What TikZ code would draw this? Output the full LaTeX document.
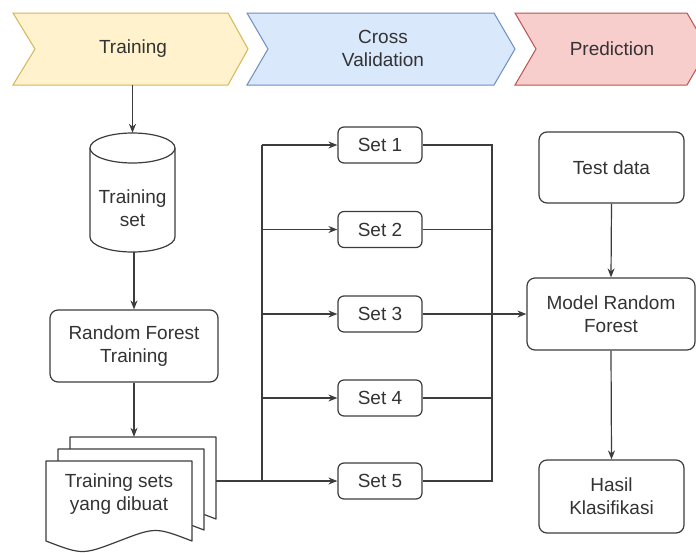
\documentclass[tikz,border=0pt]{standalone}
\usepackage{fontspec}
\setmainfont{Liberation Sans}
\usetikzlibrary{arrows.meta}
\definecolor{ink}{HTML}{333333}
\definecolor{edge}{HTML}{3C3C3C}
\definecolor{yfill}{HTML}{FFF2CC}\definecolor{ydraw}{HTML}{D6B656}
\definecolor{bfill}{HTML}{DAE8FC}\definecolor{bdraw}{HTML}{6C8EBF}
\definecolor{rfill}{HTML}{F8CECC}\definecolor{rdraw}{HTML}{B85450}
\begin{document}
\begin{tikzpicture}[x=1pt,y=-1pt,
  every node/.style={font=\fontsize{19}{23}\selectfont, text=ink, inner sep=0pt},
  box/.style={draw=edge, line width=1.2pt, rounded corners=8pt, fill=white, align=center},
  setbox/.style={box, rounded corners=6pt, minimum width=84pt, minimum height=36pt},
  ghost/.style={inner sep=0pt, align=center},
  conn/.style={draw=edge, line width=1.2pt},
  arr/.style={conn, -{Stealth[length=9pt,width=7pt]}},
  page/.style={draw=edge, line width=1.2pt, fill=white, line join=round},
  chev/.style={line width=1pt}]
\useasboundingbox (0,0) rectangle (696,552);
\fill[white] (0,0) rectangle (696,552);

% header chevrons
\path[chev, fill=yfill, draw=ydraw] (13,13) -- (228,13) -- (248,49) -- (228,85) -- (13,85) -- (35,49) -- cycle;
\path[chev, fill=bfill, draw=bdraw] (247,13) -- (494,13) -- (515,49) -- (494,85) -- (247,85) -- (268,49) -- cycle;
\path[chev, fill=rfill, draw=rdraw] (515,13) -- (687,13) -- (708,49) -- (687,85) -- (515,85) -- (536,49) -- cycle;
\node[ghost, minimum height=72pt] (hTrain) at (133,49) {Training};
\node[ghost, minimum height=72pt] (hCross) at (383,48.5) {Cross\\Validation};
\node[ghost, minimum height=72pt] (hPred) at (612,49) {Prediction};

% cylinder
\path[page] (90,148) -- (90,237) arc[start angle=180, end angle=360, x radius=42.5pt, y radius=15pt] -- (175,148);
\path[page] (132.5,148) ellipse [x radius=42.5pt, y radius=15pt];
\node[ghost, minimum width=85pt, minimum height=119pt] (cyl) at (132.5,192.5) {};
\node[ghost] (cyltext) at (132.5,208.5) {Training\\set};

% random forest training
\node[box, minimum width=168pt, minimum height=72pt] (rf) at (134,346) {Random Forest\\Training};

% multi document
\path[page] (70,437) -- (216,437) -- (216,519) .. controls (179.5,505) .. (143,519) .. controls (106.5,533) .. (70,519) -- cycle;
\path[page] (58,449) -- (204,449) -- (204,530) .. controls (167.5,516) .. (131,530) .. controls (94.5,544) .. (58,530) -- cycle;
\path[page] (46,461) -- (192,461) -- (192,541) .. controls (155.5,527) .. (119,541) .. controls (82.5,555) .. (46,541) -- cycle;
\node[ghost, minimum width=146pt, minimum height=82pt] (docback) at (143,478) {};
\node[ghost] (docs) at (119,494.5) {Training sets\\yang dibuat};

% sets
\node[setbox] (s1) at (380,145) {Set 1};
\node[setbox] (s2) at (380,229.5) {Set 2};
\node[setbox] (s3) at (380,314) {Set 3};
\node[setbox] (s4) at (380,398) {Set 4};
\node[setbox] (s5) at (380,481) {Set 5};
\coordinate (busL) at (262,314);
\coordinate (busR) at (492,314);

% prediction column
\node[box, minimum width=145pt, minimum height=71pt] (test) at (611.5,167.5) {Test data};
\node[box, minimum width=168pt, minimum height=72pt] (model) at (611,314) {Model Random\\Forest};
\node[box, minimum width=145pt, minimum height=73pt] (hasil) at (611.5,496.5) {Hasil\\Klasifikasi};

% connectors
\draw[arr] (hTrain.south -| cyl.north) -- (cyl.north);
\draw[arr] (cyl.south -| rf.north) -- (rf.north);
\draw[arr] (rf.south) -- (rf.south |- docback.north);
\draw[arr] (docback.east |- s5.west) -- (s5.west);
\draw[conn] (busL |- s5.west) -- (busL |- s1.west);
\draw[arr] (busL |- s1.west) -- (s1.west);
\draw[arr] (busL |- s2.west) -- (s2.west);
\draw[arr] (busL |- s3.west) -- (s3.west);
\draw[arr] (busL |- s4.west) -- (s4.west);
\draw[conn] (s1.east) -- (busR |- s1.east) -- (busR |- s5.east) -- (s5.east);
\draw[conn] (s2.east) -- (busR |- s2.east);
\draw[conn] (s4.east) -- (busR |- s4.east);
\draw[arr] (s3.east) -- (model.west);
\draw[arr] (test.south) -- (model.north);
\draw[arr] (model.south) -- (hasil.north);
\end{tikzpicture}
\end{document}
